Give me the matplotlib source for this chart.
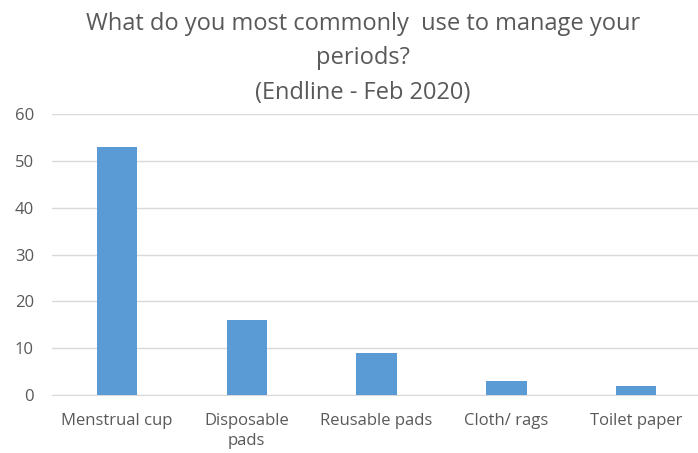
import matplotlib.pyplot as plt

# data
categories = ['Menstrual cup', 'Disposable\npads', 'Reusable pads', 'Cloth/ rags', 'Toilet paper']
values = [53, 16, 9, 3, 2]
yticks = [0, 10, 20, 30, 40, 50, 60]

plt.rcParams['font.family'] = ['Open Sans', 'DejaVu Sans']

fig = plt.figure(figsize=(6.98, 4.53), dpi=100)
ax = fig.add_axes([0.0745, 0.128, 0.93, 0.62])

ax.bar(range(len(categories)), values, width=0.31, color='#5b9bd5', zorder=3)
ax.set_xlim(-0.5, len(categories) - 0.5)
ax.set_ylim(0, 60)
ax.set_yticks(yticks)
ax.set_xticks(range(len(categories)))
ax.set_xticklabels(categories, fontsize=12, color='#595959', linespacing=1.3)
ax.tick_params(axis='y', labelsize=12, labelcolor='#595959', length=0, pad=13)
ax.tick_params(axis='x', length=0, pad=13)
ax.grid(axis='y', color='#d9d9d9', linewidth=1, zorder=0)
for s in ['top', 'right', 'left']:
    ax.spines[s].set_visible(False)
ax.spines['bottom'].set_color('#d9d9d9')

fig.text(0.52, 0.974, 'What do you most commonly  use to manage your\nperiods?\n(Endline - Feb 2020)',
         ha='center', va='top', fontsize=17, color='#595959', linespacing=1.58)

plt.savefig('out.png', dpi=100)
